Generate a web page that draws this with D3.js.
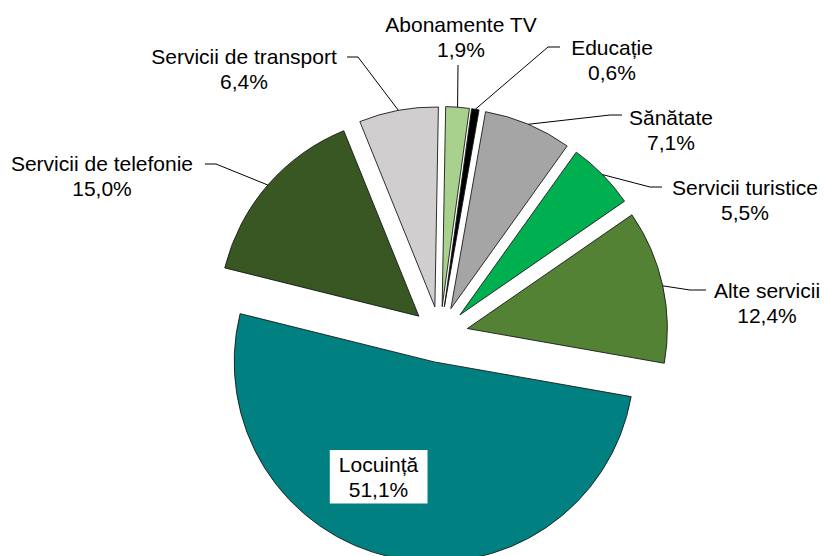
<!DOCTYPE html>
<html>
<head>
<meta charset="utf-8">
<script src="https://cdn.jsdelivr.net/npm/d3@7"></script>
<style>
body { margin: 0; background: #fff; }
text { font-family: "Liberation Sans", Arial, sans-serif; font-size: 21px; fill: #000; }
</style>
</head>
<body>
<div id="chart"></div>
<script>
var categories = ["Abonamente TV", "Educație", "Sănătate", "Servicii turistice", "Alte servicii", "Locuință", "Servicii de telefonie", "Servicii de transport"];
var shares = [1.9, 0.6, 7.1, 5.5, 12.4, 51.1, 15.0, 6.4];
var shareLabels = ["1,9%", "0,6%", "7,1%", "5,5%", "12,4%", "51,1%", "15,0%", "6,4%"];
var colors = ["#a9d18e", "#000000", "#a5a5a5", "#00b050", "#548235", "#008080", "#385723", "#d0cece"];

var width = 824, height = 556;
var cx = 440, cy = 334.5, radius = 200, explode = 28;
var rot = 1 * Math.PI / 180;

// label layout: text centre x, first baseline y, leader points starting at the label
var labelPos = [
    {x: 461, y: 32, lead: [[458, 65]]},
    {x: 612, y: 55, lead: [[560, 47], [548, 47]]},
    {x: 671, y: 125, lead: [[622, 115], [610, 115]]},
    {x: 745, y: 195, lead: [[662, 187], [650, 187]]},
    {x: 767, y: 298, lead: [[706, 290], [690, 290]]},
    {x: 378.5, y: 472, lead: null},
    {x: 102, y: 171, lead: [[205, 164], [216, 164]]},
    {x: 244, y: 64, lead: [[347, 57], [358, 57]]}
];

var data = categories.map(function(c, i) {
    return {name: c, value: shares[i], label: shareLabels[i], color: colors[i], pos: labelPos[i]};
});

var svg = d3.select("#chart")
    .append("svg")
    .attr("width", width)
    .attr("height", height);

var pie = d3.pie()
    .sort(null)
    .startAngle(rot)
    .endAngle(rot + 2 * Math.PI)
    .value(function(d) { return d.value; });

var arc = d3.arc()
    .innerRadius(0)
    .outerRadius(radius);

var arcs = pie(data);

function offset(d) {
    var mid = (d.startAngle + d.endAngle) / 2;
    return [cx + Math.sin(mid) * explode, cy - Math.cos(mid) * explode];
}

// slices
svg.append("g")
    .selectAll("path")
    .data(arcs)
    .enter()
    .append("path")
    .attr("transform", function(d) {
        var o = offset(d);
        return "translate(" + o[0] + "," + o[1] + ")";
    })
    .attr("d", arc)
    .style("fill", function(d) { return d.data.color; })
    .style("stroke", "#1a1a1a")
    .style("stroke-width", 0.9)
    .style("stroke-linejoin", "round");

// leader lines
var line = d3.line();
svg.append("g")
    .selectAll("path")
    .data(arcs.filter(function(d) { return d.data.pos.lead; }))
    .enter()
    .append("path")
    .attr("d", function(d) {
        var mid = (d.startAngle + d.endAngle) / 2;
        var o = offset(d);
        var edge = [o[0] + Math.sin(mid) * radius, o[1] - Math.cos(mid) * radius];
        return line(d.data.pos.lead.concat([edge]));
    })
    .style("fill", "none")
    .style("stroke", "#000")
    .style("stroke-width", 1);

// labels
var labels = svg.append("g")
    .selectAll("g")
    .data(data)
    .enter()
    .append("g");

labels.each(function(d) {
    var g = d3.select(this);
    var t = g.append("text")
        .attr("text-anchor", "middle");
    t.append("tspan")
        .attr("x", d.pos.x)
        .attr("y", d.pos.y)
        .text(d.name);
    t.append("tspan")
        .attr("x", d.pos.x)
        .attr("y", d.pos.y + 24.5)
        .text(d.label);
    if (!d.pos.lead) {
        var b = t.node().getBBox();
        g.insert("rect", "text")
            .attr("x", b.x - 9)
            .attr("y", b.y - 3)
            .attr("width", b.width + 18)
            .attr("height", b.height + 6)
            .style("fill", "#fff");
    }
});
</script>
</body>
</html>
